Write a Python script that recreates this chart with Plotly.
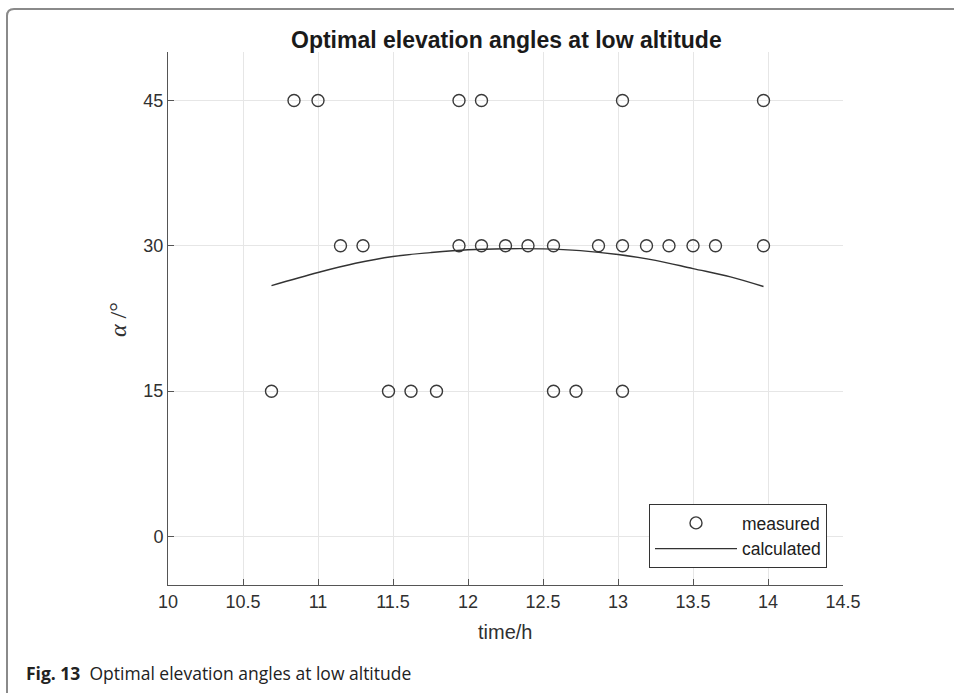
import plotly.graph_objects as go

# measured optimal elevation angles (time in hours, angle in degrees)
meas_t45 = [10.84, 11.00, 11.94, 12.09, 13.03, 13.97]
meas_t30 = [11.15, 11.30, 11.94, 12.09, 12.25, 12.40, 12.57, 12.87, 13.03,
            13.19, 13.34, 13.50, 13.65, 13.97]
meas_t15 = [10.69, 11.47, 11.62, 11.79, 12.57, 12.72, 13.03]

meas_x = meas_t45 + meas_t30 + meas_t15
meas_y = [45] * len(meas_t45) + [30] * len(meas_t30) + [15] * len(meas_t15)

# calculated curve
calc_x = [10.69, 11.00, 11.25, 11.50, 11.75, 12.00, 12.25, 12.50, 12.75,
          13.00, 13.25, 13.50, 13.75, 13.97]
calc_y = [25.9, 27.25, 28.2, 28.9, 29.3, 29.6, 29.7, 29.68, 29.5,
          29.1, 28.5, 27.65, 26.8, 25.8]

x_ticks = [10, 10.5, 11, 11.5, 12, 12.5, 13, 13.5, 14, 14.5]
y_ticks = [0, 15, 30, 45]

W, H = 954, 693
L, R, T, B = 168, 843, 52, 585


def px(x):
    return (x - L) / (R - L)


def py(y):
    return (B - y) / (B - T)


fig = go.Figure()
fig.add_trace(go.Scatter(
    x=meas_x, y=meas_y, mode="markers", name="measured",
    marker=dict(symbol="circle-open", size=12, color="#3a3a3a",
                line=dict(width=1.4, color="#3a3a3a")),
))
fig.add_trace(go.Scatter(
    x=calc_x, y=calc_y, mode="lines", name="calculated",
    line=dict(color="#333333", width=1.4, shape="spline"),
))

axis_common = dict(
    showline=True, linecolor="#555555", linewidth=1,
    ticks="inside", ticklen=6, tickcolor="#555555", tickwidth=1,
    showgrid=True, gridcolor="#e6e6e6", gridwidth=1,
    zeroline=False, mirror=False,
    tickfont=dict(family="Liberation Sans, Arial, sans-serif", size=18,
                  color="#303030"),
)

fig.update_xaxes(range=[10, 14.5], tickvals=x_ticks,
                 ticktext=[f"{v:g}" for v in x_ticks], **axis_common)
fig.update_yaxes(range=[-5, 50], tickvals=y_ticks,
                 ticktext=[str(v) for v in y_ticks], **axis_common)

# outer frame (top and left edges with rounded corner)
fl, ft, r = 7, 9, 7
path = (f"M {px(fl)} {py(H + 5)} L {px(fl)} {py(ft + r)} "
        f"Q {px(fl)} {py(ft)} {px(fl + r)} {py(ft)} L {px(W + 5)} {py(ft)}")

fig.update_layout(
    width=W, height=H,
    margin=dict(l=L, r=W - R, t=T, b=H - B, autoexpand=False),
    paper_bgcolor="white", plot_bgcolor="white",
    showlegend=True,
    legend=dict(
        x=px(827), y=py(568), xanchor="right", yanchor="bottom",
        bgcolor="white", bordercolor="#333333", borderwidth=1,
        font=dict(family="Liberation Sans, Arial, sans-serif", size=17.5,
                  color="#202020"),
        itemwidth=82, tracegroupgap=0,
    ),
    shapes=[dict(type="path", xref="paper", yref="paper", path=path,
                 line=dict(color="#8a8a8a", width=2))],
    annotations=[
        dict(text="<b>Optimal elevation angles at low altitude</b>",
             xref="paper", yref="paper", x=px(506), y=py(40),
             xanchor="center", yanchor="middle", showarrow=False,
             font=dict(family="Liberation Sans, Arial, sans-serif", size=23,
                       color="#1a1a1a")),
        dict(text="time/h", xref="paper", yref="paper", x=px(505), y=py(632),
             xanchor="center", yanchor="middle", showarrow=False,
             font=dict(family="Liberation Sans, Arial, sans-serif", size=20,
                       color="#303030")),
        dict(text="<i>α</i> /°", xref="paper", yref="paper", x=px(118), y=py(320),
             xanchor="center", yanchor="middle", showarrow=False, textangle=-90,
             font=dict(family="Liberation Serif, Times New Roman, serif", size=24,
                       color="#303030")),
        dict(text="<b>Fig. 13</b>  Optimal elevation angles at low altitude",
             xref="paper", yref="paper", x=px(24), y=py(673),
             xanchor="left", yanchor="middle", showarrow=False,
             font=dict(family="Open Sans, Noto Sans, sans-serif", size=17.5,
                       color="#222222")),
    ],
)

fig.write_html("out.html",
               config={"displayModeBar": False},
               post_script="document.body.style.margin='0';"
                           "document.body.style.overflow='hidden';")
